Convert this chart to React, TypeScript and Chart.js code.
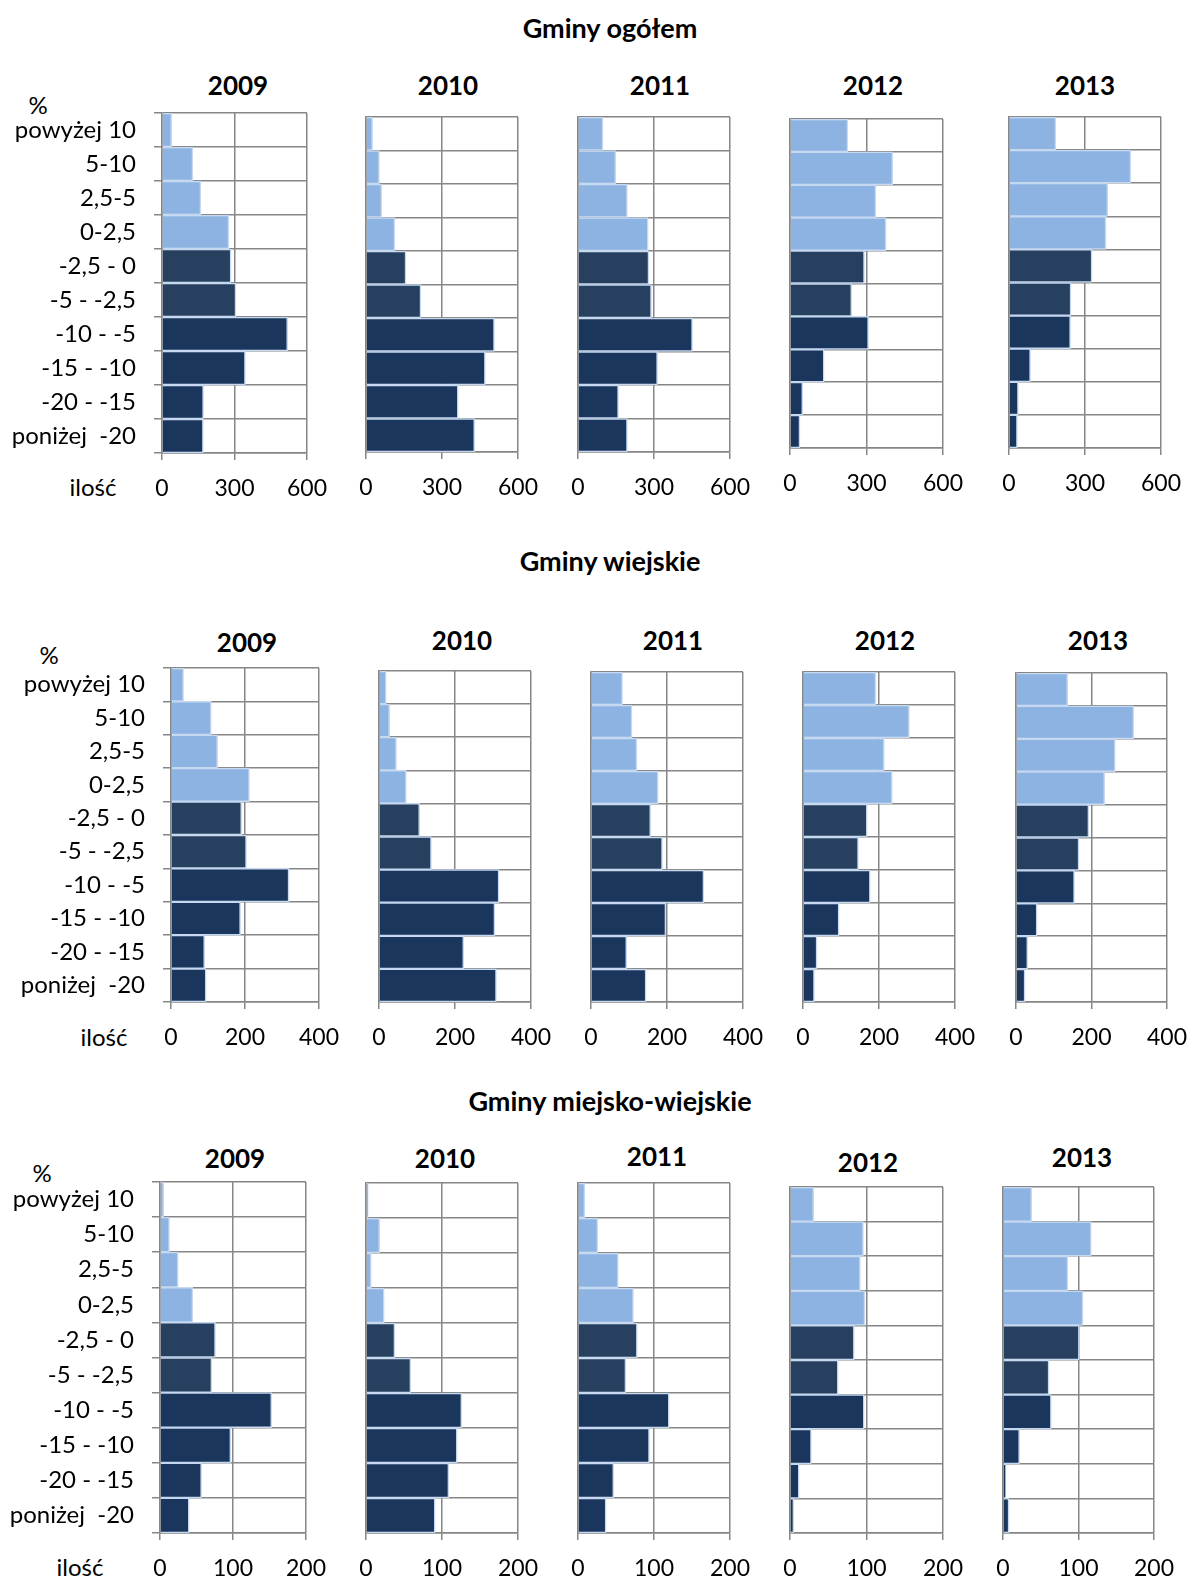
import { useEffect, useRef } from "react";
import { Chart, registerables } from "chart.js";

Chart.register(...registerables);

// ---------- DATA ----------
const categories = [
  "powyżej 10",
  "5-10",
  "2,5-5",
  "0-2,5",
  "-2,5 - 0",
  "-5 - -2,5",
  "-10 - -5",
  "-15 - -10",
  "-20 - -15",
  "poniżej  -20",
];
const years = ["2009", "2010", "2011", "2012", "2013"];
const groupTitles = ["Gminy ogółem", "Gminy wiejskie", "Gminy miejsko-wiejskie"];
const axisMax = [600, 400, 200];
const axisStep = [300, 200, 100];

// Gminy ogółem
const ogolem2009 = [40, 128, 161, 277, 286, 306, 520, 345, 172, 171];
const ogolem2010 = [26, 53, 62, 114, 158, 217, 507, 471, 364, 429];
const ogolem2011 = [99, 149, 195, 277, 280, 290, 452, 314, 160, 195];
const ogolem2012 = [227, 403, 337, 377, 292, 242, 308, 134, 50, 39];
const ogolem2013 = [185, 481, 390, 383, 328, 245, 243, 85, 37, 33];

// Gminy wiejskie
const wiejskie2009 = [34, 109, 126, 212, 191, 204, 319, 188, 91, 95];
const wiejskie2010 = [19, 28, 46, 72, 107, 138, 316, 305, 223, 309];
const wiejskie2011 = [83, 108, 121, 177, 157, 188, 297, 197, 94, 145];
const wiejskie2012 = [192, 280, 214, 235, 169, 146, 177, 95, 37, 30];
const wiejskie2013 = [137, 312, 263, 235, 193, 167, 155, 56, 31, 24];

// Gminy miejsko-wiejskie
const mw2009 = [5, 13, 25, 45, 76, 71, 153, 97, 57, 40];
const mw2010 = [3, 18, 7, 24, 38, 59, 126, 120, 109, 91];
const mw2011 = [9, 26, 53, 73, 78, 63, 120, 94, 47, 37];
const mw2012 = [31, 96, 92, 98, 84, 63, 97, 28, 12, 5];
const mw2013 = [38, 117, 86, 106, 101, 61, 64, 22, 4, 8];

const groupSeries = [
  [ogolem2009, ogolem2010, ogolem2011, ogolem2012, ogolem2013],
  [wiejskie2009, wiejskie2010, wiejskie2011, wiejskie2012, wiejskie2013],
  [mw2009, mw2010, mw2011, mw2012, mw2013],
];

// ---------- LAYOUT (page pixels) ----------
// plot rectangles: [left, right, top, bottom]
const plotRects = [
  [
    [162, 307, 113, 453],
    [366, 518, 117, 452],
    [578, 730, 117, 452],
    [790, 943, 119, 448],
    [1009, 1161, 117, 448],
  ],
  [
    [171, 319, 668, 1002],
    [379, 531, 671, 1002],
    [591, 743, 672, 1002],
    [803, 955, 672, 1002],
    [1016, 1167, 673, 1002],
  ],
  [
    [160, 306, 1182, 1533],
    [366, 518, 1183, 1533],
    [578, 730, 1183, 1533],
    [790, 943, 1187, 1533],
    [1003, 1154, 1187, 1533],
  ],
];
const yearPos = [
  [[238, 85], [448, 85], [660, 85], [873, 85], [1085, 85]],
  [[247, 642], [462, 640], [673, 640], [885, 640], [1098, 640]],
  [[235, 1158], [445, 1158], [657, 1156], [868, 1162], [1082, 1157]],
];
const groupTitlePos = [[610, 27], [610, 560], [610, 1100]];
const percentPos = [[38, 105], [49, 655], [42, 1173]];
const iloscPos = [[93, 487], [104, 1037], [80, 1567]];

const FONT = "Lato, 'DejaVu Sans', sans-serif";
const GRID = "#868686";
const LIGHT = "#8DB3E2";
const SLATE = "#27405F";
const NAVY = "#1A365D";
const barColors = categories.map((_, i) => (i < 4 ? LIGHT : i < 6 ? SLATE : NAVY));

type PanelProps = {
  values: number[];
  max: number;
  step: number;
  rect: number[];
  showLabels: boolean;
};

function BarPanel({ values, max, step, rect, showLabels }: PanelProps) {
  const ref = useRef<HTMLCanvasElement>(null);
  const [x0, x1, top, bottom] = rect;
  const Wy = showLabels ? x0 : 16;
  const padTop = 4;
  const padRight = 32;
  const Hx = 56;
  const left = x0 - Wy;
  const cTop = top - padTop;
  const width = Wy + (x1 - x0) + padRight;
  const height = padTop + (bottom - top) + Hx;

  useEffect(() => {
    if (!ref.current) return;
    const chart = new Chart(ref.current, {
      type: "bar",
      data: {
        labels: categories,
        datasets: [
          {
            data: values,
            backgroundColor: barColors,
            borderColor: "#C6D9F1",
            borderWidth: 1.5,
            barPercentage: 1,
            categoryPercentage: 1,
          },
        ],
      },
      options: {
        indexAxis: "y",
        responsive: false,
        animation: false,
        layout: { padding: { top: padTop, right: padRight, left: 0, bottom: 0 } },
        plugins: {
          legend: { display: false },
          tooltip: { enabled: false },
          title: { display: false },
        },
        scales: {
          x: {
            min: 0,
            max: max,
            ticks: {
              stepSize: step,
              font: { family: FONT, size: 23 },
              color: "#000",
              padding: 15,
              maxRotation: 0,
            },
            grid: { color: GRID, lineWidth: 1.5, tickLength: 7, drawTicks: true },
            border: { color: GRID, width: 1.5 },
            afterFit: (s: any) => {
              s.height = Hx;
              s.paddingLeft = 0;
              s.paddingRight = 0;
            },
          },
          y: {
            ticks: {
              display: showLabels,
              font: { family: FONT, size: 24 },
              color: "#000",
              padding: 18,
            },
            grid: {
              color: GRID,
              lineWidth: 1.5,
              tickLength: 8,
              drawTicks: showLabels,
              offset: true,
            },
            border: { color: GRID, width: 1.5 },
            afterFit: (s: any) => {
              s.width = Wy;
              s.paddingTop = 0;
              s.paddingBottom = 0;
            },
          },
        },
      } as any,
    });
    return () => chart.destroy();
  }, [values, max, step, showLabels, Wy]);

  return (
    <canvas
      ref={ref}
      width={width}
      height={height}
      style={{ position: "absolute", left, top: cTop, width, height }}
    />
  );
}

function Label({
  x,
  y,
  text,
  size,
  bold,
}: {
  x: number;
  y: number;
  text: string;
  size: number;
  bold?: boolean;
}) {
  return (
    <div
      style={{
        position: "absolute",
        left: x,
        top: y,
        transform: "translate(-50%, -50%)",
        fontFamily: FONT,
        fontSize: size,
        fontWeight: bold ? 700 : 400,
        lineHeight: 1,
        whiteSpace: "pre",
        color: "#000",
      }}
    >
      {text}
    </div>
  );
}

export default function App() {
  return (
    <div
      style={{
        position: "absolute",
        left: 0,
        top: 0,
        width: 1188,
        height: 1578,
        overflow: "hidden",
        background: "#fff",
      }}
    >
      {groupTitles.map((t, g) => (
        <div key={"g" + g}>
          <Label x={groupTitlePos[g][0]} y={groupTitlePos[g][1]} text={t} size={27} bold />
          <Label x={percentPos[g][0]} y={percentPos[g][1]} text="%" size={24} />
          <Label x={iloscPos[g][0]} y={iloscPos[g][1]} text="ilość" size={24} />
          {years.map((yr, i) => (
            <Label
              key={"y" + i}
              x={yearPos[g][i][0]}
              y={yearPos[g][i][1]}
              text={yr}
              size={26}
              bold
            />
          ))}
          {years.map((yr, i) => (
            <BarPanel
              key={"c" + i}
              values={groupSeries[g][i]}
              max={axisMax[g]}
              step={axisStep[g]}
              rect={plotRects[g][i]}
              showLabels={i === 0}
            />
          ))}
        </div>
      ))}
    </div>
  );
}
